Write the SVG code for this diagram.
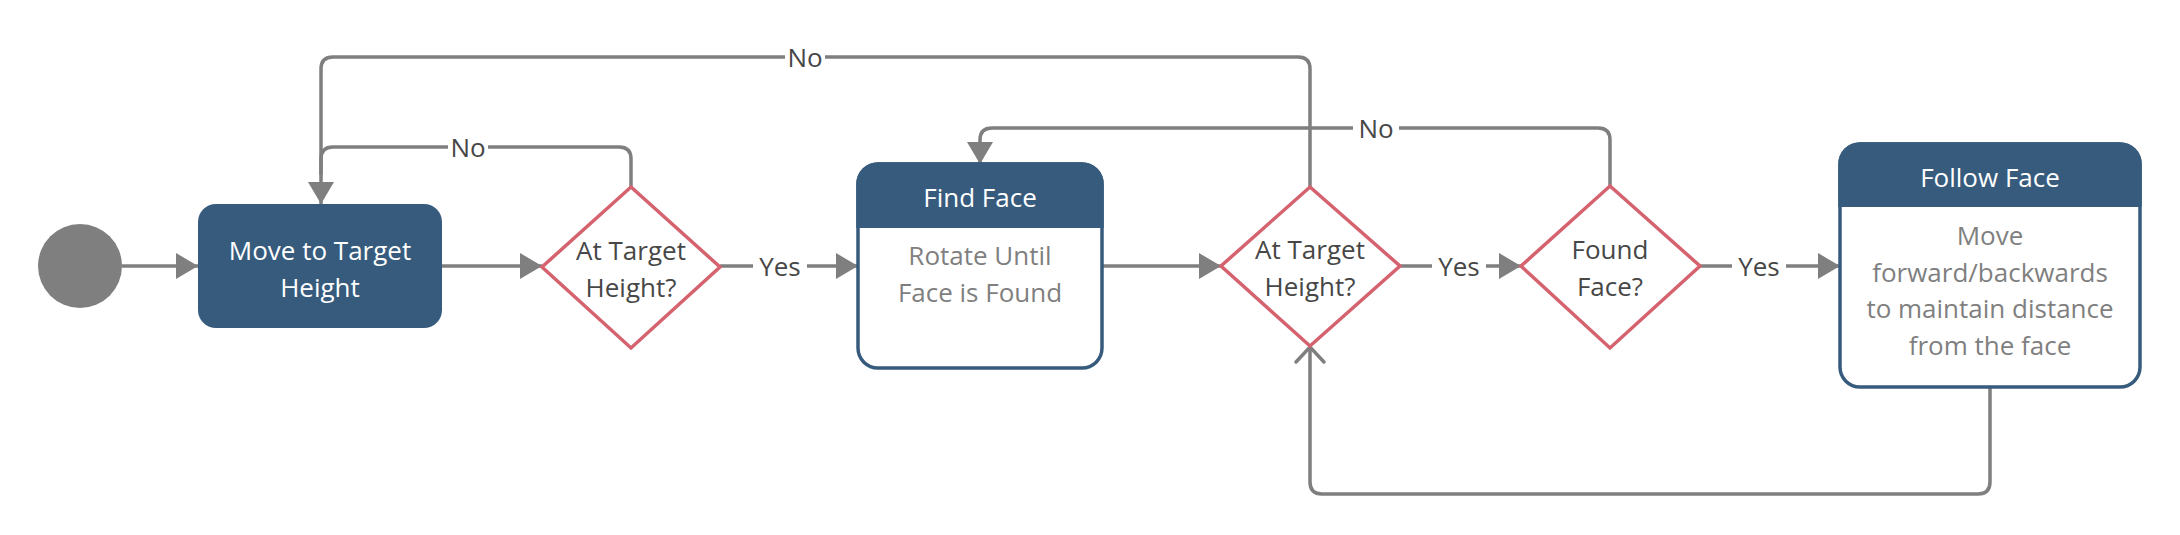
<svg xmlns="http://www.w3.org/2000/svg" width="2180" height="535" viewBox="0 0 2180 535">
<style>
.bg{fill:#ffffff}
.conn{fill:none;stroke:#7f7f7f;stroke-width:3.5;stroke-linejoin:round}
.dia{fill:#ffffff;stroke:#d5636f;stroke-width:3.5}
.blue{fill:#365b7d}
.card{fill:#ffffff;stroke:#365b7d;stroke-width:3.5}
.t{font-family:"Open Sans","Noto Sans","Liberation Sans",sans-serif;font-size:26px;text-anchor:middle}
.w{fill:#ffffff}
.g{fill:#7f7f7f}
.d{fill:#474747}
.lbl{fill:#ffffff}
</style>
<defs>
<marker id="arr" markerUnits="userSpaceOnUse" markerWidth="24" markerHeight="28" viewBox="0 0 24 28" refX="23" refY="14" orient="auto">
<path d="M1,1 L23,14 L1,27 Z" fill="#7f7f7f"/>
</marker>
<marker id="open" markerUnits="userSpaceOnUse" markerWidth="24" markerHeight="34" viewBox="-20 -17 24 34" refX="0" refY="0" orient="auto">
<path d="M-15,-14 L0,0 L-15,14" fill="none" stroke="#7f7f7f" stroke-width="3.5" stroke-linecap="round"/>
</marker>
</defs>
<rect class="bg" x="0" y="0" width="2180" height="535"/>

<g id="connectors">
<path class="conn" d="M122,266 H198" marker-end="url(#arr)"/>
<path class="conn" d="M442,266 H542" marker-end="url(#arr)"/>
<path class="conn" d="M720,266 H858" marker-end="url(#arr)"/>
<path class="conn" d="M1102,266 H1221" marker-end="url(#arr)"/>
<path class="conn" d="M1400,266 H1521" marker-end="url(#arr)"/>
<path class="conn" d="M1700,266 H1840" marker-end="url(#arr)"/>
<path class="conn" d="M631,187 V159 Q631,147 619,147 H333 Q321,147 321,159 V175"/>
<path class="conn" d="M1310,187 V69 Q1310,57 1298,57 H333 Q321,57 321,69 V204" marker-end="url(#arr)"/>
<path class="conn" d="M1610,186 V140 Q1610,128 1598,128 H992 Q980,128 980,140 V164" marker-end="url(#arr)"/>
<path class="conn" d="M1990,387 V482 Q1990,494 1978,494 H1322 Q1310,494 1310,482 V347" marker-end="url(#open)"/>
<g id="labels">
<rect class="lbl" x="753" y="250" width="54" height="32"/>
<text class="t d" x="780" y="276">Yes</text>
<rect class="lbl" x="1432" y="250" width="54" height="32"/>
<text class="t d" x="1459" y="276">Yes</text>
<rect class="lbl" x="1732" y="250" width="54" height="32"/>
<text class="t d" x="1759" y="276">Yes</text>
<rect class="lbl" x="448" y="131" width="40" height="32"/>
<text class="t d" x="468" y="157">No</text>
<rect class="lbl" x="785" y="41" width="40" height="32"/>
<text class="t d" x="805" y="67">No</text>
<rect class="lbl" x="1353" y="112" width="46" height="32"/>
<text class="t d" x="1376" y="138">No</text>
</g>
</g>

<g id="start">
<circle cx="80" cy="266" r="42" fill="#7f7f7f"/>
</g>

<g id="move-to-target-height">
<rect class="blue" x="198" y="204" width="244" height="124" rx="18" ry="18"/>
<text class="t w" x="320" y="260">Move to Target</text>
<text class="t w" x="320" y="297">Height</text>
</g>

<g id="decision-1">
<polygon class="dia" points="631,187 720,267 631,348 542,267"/>
<text class="t d" x="631" y="260">At Target</text>
<text class="t d" x="631" y="297">Height?</text>
</g>

<g id="find-face">
<rect class="card" x="858" y="164" width="244" height="204" rx="20" ry="20"/>
<path class="blue" d="M856.25,228 V184 A21.75,21.75 0 0 1 878,162.25 H1082 A21.75,21.75 0 0 1 1103.75,184 V228 Z"/>
<text class="t w" x="980" y="207">Find Face</text>
<text class="t g" x="980" y="265">Rotate Until</text>
<text class="t g" x="980" y="302">Face is Found</text>
</g>

<g id="decision-2">
<polygon class="dia" points="1310,187 1400,266 1310,346 1221,266"/>
<text class="t d" x="1310" y="259">At Target</text>
<text class="t d" x="1310" y="296">Height?</text>
</g>

<g id="decision-3">
<polygon class="dia" points="1610,186 1700,266 1610,348 1521,266"/>
<text class="t d" x="1610" y="259">Found</text>
<text class="t d" x="1610" y="296">Face?</text>
</g>

<g id="follow-face">
<rect class="card" x="1840" y="144" width="300" height="243" rx="20" ry="20"/>
<path class="blue" d="M1838.25,207 V164 A21.75,21.75 0 0 1 1860,142.25 H2120 A21.75,21.75 0 0 1 2141.75,164 V207 Z"/>
<text class="t w" x="1990" y="187">Follow Face</text>
<text class="t g" x="1990" y="245">Move</text>
<text class="t g" x="1990" y="282">forward/backwards</text>
<text class="t g" x="1990" y="318">to maintain distance</text>
<text class="t g" x="1990" y="355">from the face</text>
</g>
</svg>
